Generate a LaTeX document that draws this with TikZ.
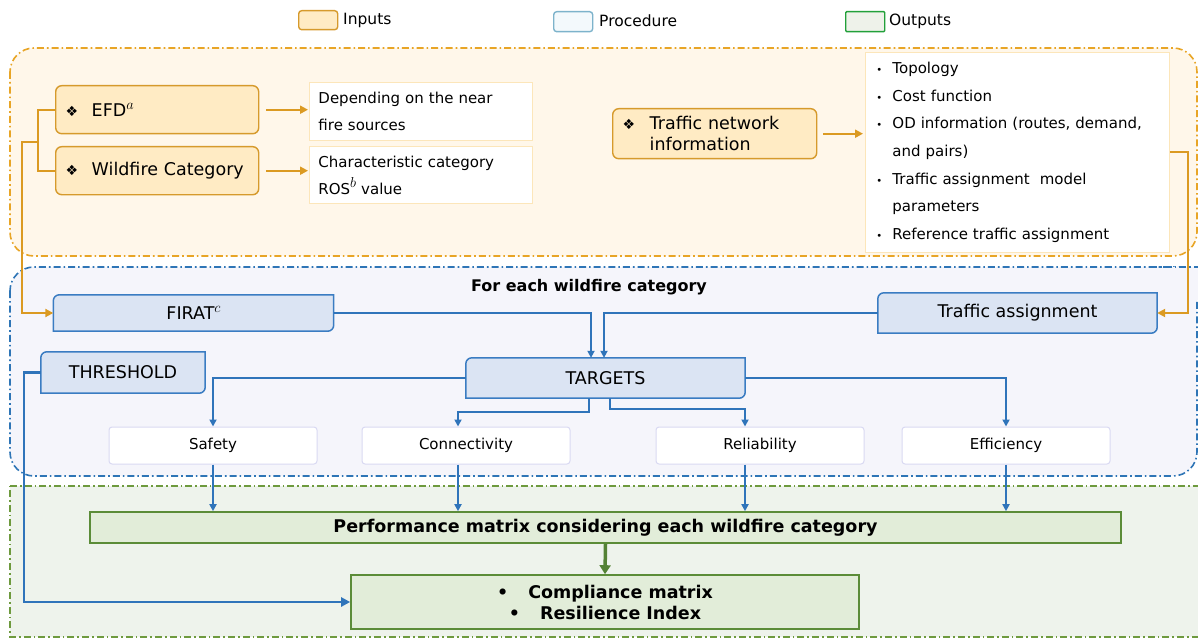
\documentclass[tikz,border=0pt]{standalone}
\usepackage{fontspec}
\setmainfont{DejaVu Sans}
\usetikzlibrary{arrows.meta,calc}
\pgfdeclarelayer{back}
\pgfdeclarelayer{background}
\pgfsetlayers{back,background,main}
\definecolor{orline}{HTML}{DB9A22}
\definecolor{orbd}{HTML}{D69A2C}
\definecolor{orfill}{HTML}{FFEBC4}
\definecolor{orreg}{HTML}{E8A526}
\definecolor{orregfill}{HTML}{FFF7EA}
\definecolor{orwhitebd}{HTML}{FCE6BA}
\definecolor{blline}{HTML}{2F74BA}
\definecolor{blbd}{HTML}{3A7CC2}
\definecolor{blfill}{HTML}{DBE4F3}
\definecolor{blreg}{HTML}{2E75B6}
\definecolor{blregfill}{HTML}{F5F5FB}
\definecolor{blwhitebd}{HTML}{D9D9F2}
\definecolor{grline}{HTML}{548235}
\definecolor{grbd}{HTML}{5B8C38}
\definecolor{grfill}{HTML}{E2EDD9}
\definecolor{grreg}{HTML}{6E9A3E}
\definecolor{grregfill}{HTML}{EEF3EC}
\definecolor{procbd}{HTML}{7DB3CB}
\definecolor{procfill}{HTML}{F3F9FC}
\definecolor{outbd}{HTML}{22A03A}
\definecolor{outfill}{HTML}{EEF2EA}
\newcommand\blueshape[1]{%
  \begin{pgfonlayer}{background}
  \path[fill=blfill, draw=blbd, line width=1.5pt]
    ([yshift=-6pt]#1.north west) arc[start angle=180,end angle=90,radius=6pt]
    -- (#1.north east) -- ([yshift=6pt]#1.south east)
    arc[start angle=0,end angle=-90,radius=6pt] -- (#1.south west) -- cycle;
  \end{pgfonlayer}}
\newcommand\supit[1]{\raisebox{7pt}{\fontsize{15}{15}\selectfont$#1$}}
\newcommand\dia{\makebox[26pt][l]{\fontsize{14}{14}\selectfont ❖}}
\newcommand\bul{\makebox[16pt][l]{\fontsize{10}{10}\selectfont •}}
\begin{document}
\begin{tikzpicture}[x=1pt,y=-1pt,
  region/.style={line width=1.6pt, dash pattern=on 7pt off 3pt on 1.6pt off 3pt},
  legbox/.style={line width=1.4pt, rounded corners=3pt},
  legtext/.style={anchor=west, inner sep=0pt, font=\fontsize{15.5}{18}\selectfont},
  inbox/.style={draw=orbd, fill=orfill, line width=1.4pt, rounded corners=6pt,
    anchor=north west, inner ysep=0pt, inner xsep=10pt, align=left,
    font=\fontsize{17.5}{21}\selectfont},
  owbox/.style={draw=orwhitebd, fill=white, line width=0.9pt, anchor=north west,
    inner ysep=0pt, align=left, font=\fontsize{15}{27}\selectfont},
  bluenode/.style={inner sep=0pt, font=\fontsize{17.5}{21}\selectfont},
  wbox/.style={draw=blwhitebd, fill=white, line width=1pt, rounded corners=3pt,
    minimum width=208pt, minimum height=37pt, inner sep=0pt,
    font=\fontsize{15}{18}\selectfont},
  grbox/.style={draw=grbd, fill=grfill, line width=1.6pt, inner sep=0pt,
    font=\bfseries\fontsize{17.5}{21}\selectfont},
  orarrow/.style={draw=orline, line width=2pt, -{Triangle[length=8pt,width=8pt]}},
  orplain/.style={draw=orline, line width=2pt},
  blarrow/.style={draw=blline, line width=1.8pt, -{Triangle[length=7pt,width=7pt]}},
  thickbl/.style={draw=blline, line width=2.6pt, -{Triangle[length=9pt,width=9pt]}},
  grarrow/.style={draw=grline, line width=3.5pt, -{Triangle[length=9pt,width=11pt]}}
]
\useasboundingbox (0,0) rectangle (1198,639);

% regions
\begin{pgfonlayer}{back}
\clip (0,0) rectangle (1198,639);
\path[region, fill=grregfill, draw=grreg] (10,486) -- (1215,486) -- (1215,637) -- (10,637) -- cycle;
\path[region, fill=blregfill, draw=blreg, rounded corners=24pt] (10,267) rectangle (1197,476);
\path[fill=blregfill] (1170,267) rectangle (1199,300);
\draw[region, draw=blreg] (1150,267) -- (1199,267);
\path[region, fill=orregfill, draw=orreg, rounded corners=24pt] (10,48) rectangle (1197,256);
\end{pgfonlayer}

% legend
\node[legbox, draw=orbd, fill=orfill, minimum width=39pt, minimum height=19pt, anchor=north west, inner sep=0pt] (lin) at (298,10) {};
\node[legtext] (linT) at (343,20) {Inputs};
\node[legbox, draw=procbd, fill=procfill, minimum width=39pt, minimum height=20pt, anchor=north west, inner sep=0pt] (lpr) at (553,11) {};
\node[legtext] (lprT) at (599,21) {Procedure};
\node[legbox, draw=outbd, fill=outfill, rounded corners=1pt, minimum width=39pt, minimum height=20pt, anchor=north west, inner sep=0pt] (lou) at (845,11) {};
\node[legtext] (louT) at (889,21) {Outputs};

% inputs
\node[inbox, minimum width=203pt, minimum height=48pt, text width=183pt] (efd) at (55,85)
  {\dia EFD\supit{a}};
\node[inbox, minimum width=203pt, minimum height=48pt, text width=183pt] (wild) at (55,146)
  {\dia Wildfire Category};
\node[owbox, minimum width=223pt, minimum height=58pt, inner xsep=9pt, text width=205pt] (dep) at (309,82)
  {Depending on the near\\fire sources};
\node[owbox, minimum width=223pt, minimum height=57pt, inner xsep=9pt, text width=205pt] (char) at (309,146)
  {Characteristic category\\ROS\supit{b} value};
\node[inbox, minimum width=204pt, minimum height=50pt, text width=184pt] (tni) at (612,108)
  {\makebox[27pt][l]{\fontsize{14}{14}\selectfont ❖}Traffic network\\\hspace*{27pt}information};
\node[owbox, minimum width=304pt, minimum height=200pt, inner xsep=11pt, text width=282pt,
      font=\fontsize{15}{27.6}\selectfont] (list) at (865,52)
  {\bul Topology\\
   \bul Cost function\\
   \bul OD information (routes, demand,\\
   \hspace*{16pt}and pairs)\\
   \bul Traffic assignment\ \ model\\
   \hspace*{16pt}parameters\\
   \bul Reference traffic assignment};

% procedure
\node[font=\bfseries\fontsize{16}{19}\selectfont, inner sep=0pt] (title) at (589,287) {For each wildfire category};
\node[bluenode, minimum width=280pt, minimum height=36pt] (firat) at (193.5,313) {FIRAT\supit{c}};
\node[bluenode, minimum width=279pt, minimum height=40pt] (ta) at (1017.5,313) {Traffic assignment};
\node[bluenode, minimum width=164pt, minimum height=41pt] (thr) at (123,372.5) {THRESHOLD};
\node[bluenode, minimum width=279pt, minimum height=40pt] (targets) at (605.5,378) {TARGETS};
\blueshape{firat}
\blueshape{ta}
\blueshape{thr}
\blueshape{targets}
\node[wbox] (safety) at (213,445.5) {Safety};
\node[wbox] (conn) at (466,445.5) {Connectivity};
\node[wbox] (rel) at (760,445.5) {Reliability};
\node[wbox] (eff) at (1006,445.5) {Efficiency};

% outputs
\node[grbox, minimum width=1031pt, minimum height=31pt] (perf) at (605.5,527.5)
  {Performance matrix considering each wildfire category};
\node[grbox, minimum width=508pt, minimum height=54pt, align=center] (comp) at (605,602)
  {•\hspace{20pt}Compliance matrix\\•\hspace{20pt}Resilience Index};

% orange connectors
\draw[orarrow, shorten <=7pt, shorten >=1pt] (efd.east) -- (dep.west |- efd.east);
\draw[orarrow, shorten <=7pt, shorten >=1pt] (wild.east) -- (char.west |- wild.east);
\draw[orplain] (efd.west) -- ++(-17,0) |- (wild.west);
\coordinate (br) at ($(efd.west)!0.5!(wild.west)+(-17,2)$);
\draw[orarrow] (br) -- ++(-16,0) |- (firat.west);
\draw[orarrow, shorten <=6pt, shorten >=2pt] (tni.east) -- (list.west |- tni.east);
\draw[orarrow] (list.east) -- ++(18,0) |- (ta.east);

% blue connectors
\draw[blarrow] (firat.east) -| ([xshift=-14.5pt]targets.north);
\draw[blarrow] (ta.west) -| ([xshift=-1.5pt]targets.north);
\draw[blarrow] (targets.west) -| (safety.north);
\draw[blarrow] ([xshift=-16.5pt]targets.south) -- ++(0,14) -| ([xshift=-8pt]conn.north);
\draw[blarrow] ([xshift=4.5pt]targets.south) -- ++(0,11) -| ([xshift=-15pt]rel.north);
\draw[blarrow] (targets.east) -| (eff.north);
\draw[blarrow] (safety.south) -- (safety.south |- perf.north);
\draw[blarrow] ([xshift=-8pt]conn.south) -- ([xshift=-8pt]conn.south |- perf.north);
\draw[blarrow] ([xshift=-15pt]rel.south) -- ([xshift=-15pt]rel.south |- perf.north);
\draw[blarrow] (eff.south) -- (eff.south |- perf.north);
\draw[thickbl] (thr.west) -- ++(-17,0) |- (comp.west);
\draw[grarrow] (perf.south) -- (comp.north);
\end{tikzpicture}
\end{document}
